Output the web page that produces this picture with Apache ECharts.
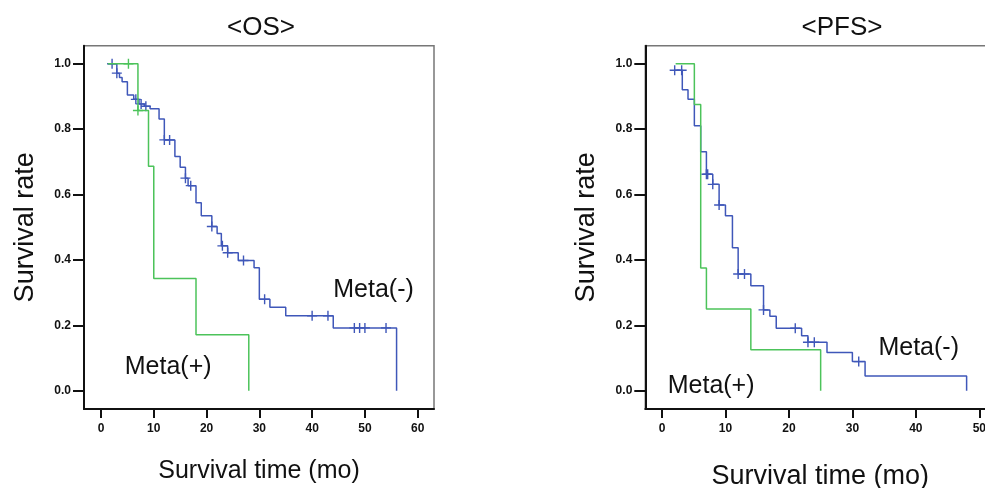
<!DOCTYPE html>
<html>
<head>
<meta charset="utf-8">
<script src="https://cdn.jsdelivr.net/npm/echarts@6/dist/echarts.min.js"></script>
<style>
  html, body { margin: 0; padding: 0; background: #fff; }
  #chart { width: 985px; height: 488px; }
</style>
</head>
<body>
<div id="chart"></div>
<script>
// Kaplan-Meier curves: event times (months) and survival level after each time
const osMinusTimes = [1.3, 3, 3.5, 4, 5, 6.2, 7.2, 8.2, 9.3, 11, 12, 14, 15, 16, 16.5, 18, 19, 21, 22, 22.8, 24, 26, 29, 30, 32, 35, 44, 56];
const osMinusSurv  = [1.0, 0.971, 0.958, 0.945, 0.904, 0.891, 0.877, 0.870, 0.862, 0.831, 0.767, 0.716, 0.683, 0.650, 0.627, 0.575, 0.535, 0.502, 0.481, 0.443, 0.422, 0.398, 0.376, 0.280, 0.255, 0.229, 0.192, 0];
const osMinusCensor = [2.1, 3, 6.6, 7.6, 8.5, 12, 13, 16, 17, 21, 23, 24, 27, 31, 40, 43, 48, 49, 50, 54];

const osPlusTimes = [1.3, 7, 9, 10, 18, 28];
const osPlusSurv  = [1.0, 0.857, 0.686, 0.343, 0.171, 0];
const osPlusCensor = [5.2, 7];

const pfsMinusTimes = [2.0, 3.2, 4.1, 5.1, 6.1, 7, 8, 9, 10, 11.1, 12, 14, 16, 17, 18, 22, 23, 26, 30, 32, 48];
const pfsMinusSurv  = [0.98, 0.920, 0.891, 0.810, 0.731, 0.662, 0.631, 0.568, 0.535, 0.437, 0.357, 0.321, 0.247, 0.228, 0.191, 0.168, 0.148, 0.117, 0.089, 0.045, 0];
const pfsMinusCensor = [2.0, 3.1, 7, 7.2, 8, 9, 12, 13, 16, 21, 23, 24, 31];

const pfsPlusTimes = [2.15, 5.1, 6.1, 7, 14, 25];
const pfsPlusSurv  = [1.0, 0.875, 0.375, 0.25, 0.125, 0];
const pfsPlusCensor = [];

const osTicks = [0, 10, 20, 30, 40, 50, 60];
const pfsTicks = [0, 10, 20, 30, 40, 50];
const yTicks = [0, 0.2, 0.4, 0.6, 0.8, 1.0];

const panelTitles = ['<OS>', '<PFS>'];
const groupNames = ['Meta(-)', 'Meta(+)'];
// where each group name sits, in data units [time, survival]
const osLabelAt = [[44, 0.308], [4.5, 0.072]];
const pfsLabelAt = [[34.1, 0.131], [0.9, 0.015]];

const BLUE = '#3f57b9';
const GREEN = '#4cc35a';
const FONT = 'Liberation Sans';

function pairs(times, surv) {
  return times.map((t, i) => [t, surv[i]]);
}
function levelAt(times, surv, t) {
  let v = surv[0];
  for (let i = 0; i < times.length; i++) {
    if (times[i] <= t) v = surv[i];
  }
  return v;
}
function censorPoints(times, surv, cens) {
  return cens.map(t => [t, levelAt(times, surv, t)]);
}

const PLUS = 'path://M5,0L5,10M0,5L10,5';

function xAxisFor(gridIndex, min, max, ticks, nameSize, nameGap) {
  return {
    type: 'value', gridIndex, min, max,
    name: 'Survival time (mo)', nameLocation: 'middle', nameGap,
    nameTextStyle: { fontFamily: FONT, fontSize: nameSize, color: '#111' },
    axisLine: { onZero: false, lineStyle: { color: '#111', width: 2 } },
    axisTick: { show: true, inside: false, length: 9, customValues: ticks, lineStyle: { color: '#111', width: 2 } },
    axisLabel: { customValues: ticks, margin: 14, fontFamily: FONT, fontWeight: 'bold', fontSize: 12, color: '#111' },
    splitLine: { show: false }
  };
}
function yAxisFor(gridIndex) {
  return {
    type: 'value', gridIndex, min: -0.056, max: 1.055,
    name: 'Survival rate', nameLocation: 'middle', nameGap: 45,
    nameTextStyle: { fontFamily: FONT, fontSize: 27, color: '#111' },
    axisLine: { onZero: false, lineStyle: { color: '#111', width: 2 } },
    axisTick: { show: true, inside: false, length: 11, customValues: yTicks, lineStyle: { color: '#111', width: 2 } },
    axisLabel: { customValues: yTicks, margin: 13, fontFamily: FONT, fontWeight: 'bold', fontSize: 12, color: '#111',
                 formatter: v => v.toFixed(1) },
    splitLine: { show: false }
  };
}

function curve(idx, times, surv, color, z) {
  return {
    type: 'line', xAxisIndex: idx, yAxisIndex: idx, step: 'end',
    data: pairs(times, surv), showSymbol: false, silent: true, z,
    lineStyle: { color, width: 1.5 }
  };
}
function censors(idx, times, surv, cens, color, z) {
  return {
    type: 'scatter', xAxisIndex: idx, yAxisIndex: idx, z,
    data: censorPoints(times, surv, cens),
    symbol: PLUS, symbolSize: 10, silent: true,
    itemStyle: { color: 'none', borderColor: color, borderWidth: 1.4, opacity: 1 }
  };
}
function groupLabels(idx, spots) {
  return {
    type: 'scatter', xAxisIndex: idx, yAxisIndex: idx, symbolSize: 0, silent: true,
    itemStyle: { opacity: 1 },
    data: spots.map((p, i) => ({ value: p, name: groupNames[i] })),
    label: { show: true, position: 'right', distance: 0, formatter: '{b}',
             fontFamily: FONT, fontSize: 25, color: '#111' }
  };
}

const gridBase = { top: 45.7, bottom: 79, show: true, borderColor: '#777', borderWidth: 1.5,
                   backgroundColor: 'transparent', outerBoundsMode: 'none', containLabel: false };

const chart = echarts.init(document.getElementById('chart'), null, { renderer: 'canvas' });
chart.setOption({
  animation: false,
  backgroundColor: '#fff',
  title: [
    { text: panelTitles[0], left: 256, top: 10, textAlign: 'center',
      textStyle: { fontFamily: FONT, fontWeight: 'normal', fontSize: 26, color: '#111' } },
    { text: panelTitles[1], left: 837, top: 10, textAlign: 'center',
      textStyle: { fontFamily: FONT, fontWeight: 'normal', fontSize: 26, color: '#111' } }
  ],
  grid: [
    Object.assign({ left: 84, right: 551 }, gridBase),
    Object.assign({ left: 645.3, right: -10.3 }, gridBase)
  ],
  xAxis: [
    xAxisFor(0, -3.22, 63.09, osTicks, 25, 50),
    xAxisFor(1, -2.63, 52.52, pfsTicks, 27, 54)
  ],
  yAxis: [yAxisFor(0), yAxisFor(1)],
  series: [
    curve(0, osMinusTimes, osMinusSurv, BLUE, 2),
    censors(0, osMinusTimes, osMinusSurv, osMinusCensor, BLUE, 3),
    curve(0, osPlusTimes, osPlusSurv, GREEN, 4),
    censors(0, osPlusTimes, osPlusSurv, osPlusCensor, GREEN, 5),
    groupLabels(0, osLabelAt),
    curve(1, pfsMinusTimes, pfsMinusSurv, BLUE, 2),
    censors(1, pfsMinusTimes, pfsMinusSurv, pfsMinusCensor, BLUE, 3),
    curve(1, pfsPlusTimes, pfsPlusSurv, GREEN, 4),
    censors(1, pfsPlusTimes, pfsPlusSurv, pfsPlusCensor, GREEN, 5),
    groupLabels(1, pfsLabelAt)
  ]
});
</script>
</body>
</html>
